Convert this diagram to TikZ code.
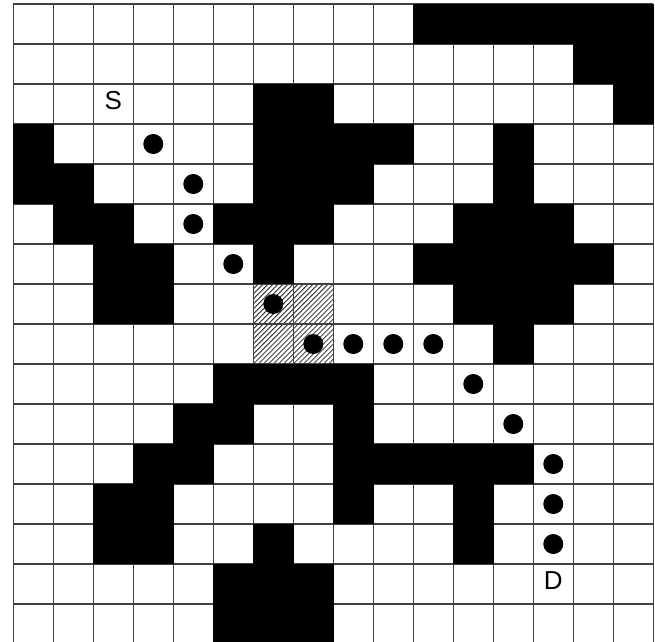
\documentclass[tikz,border=0pt]{standalone}
\usepackage{fontspec}
\setmainfont{Liberation Sans}
\begin{document}
\begin{tikzpicture}[x=1pt,y=-1pt,
  gridline/.style={line width=1.2pt, draw=black!75},
  wall/.style={fill=black},
  hatchline/.style={line width=0.8pt, draw=black!85},
  pathdot/.style={circle, fill=black, inner sep=0pt, minimum size=20pt},
  endlabel/.style={font=\fontsize{26}{26}\selectfont, inner sep=0pt}]
\useasboundingbox (0,0) rectangle (655,641);
\clip (0,0) rectangle (655,641);
\fill[white] (0,0) rectangle (655,641);
% hatched block
\begin{scope}
  \clip (253.3,284) rectangle (333.3,364);
  \foreach \k in {-17,...,17} {
    \draw[hatchline] (253.3+5*\k, 364) -- ++(80,-80);
  }
\end{scope}
% grid
\foreach \i in {0,...,16} {
  \draw[gridline] (13.3+40*\i, 4) -- (13.3+40*\i, 644);
  \draw[gridline] (13.3, 4+40*\i) -- (653.3, 4+40*\i);
}
% walls
\foreach \r/\cols in {0/{10,11,12,13,14,15}, 1/{14,15}, 2/{6,7,15}, 3/{0,6,7,8,9,12},
  4/{0,1,6,7,8,12}, 5/{1,2,5,6,7,11,12,13}, 6/{2,3,6,10,11,12,13,14}, 7/{2,3,11,12,13},
  8/{12}, 9/{5,6,7,8}, 10/{4,5,8}, 11/{3,4,8,9,10,11,12}, 12/{2,3,8,11}, 13/{2,3,6,11},
  14/{5,6,7}, 15/{5,6,7}} {
  \foreach \c in \cols {
    \fill[wall] (13.3+40*\c-0.3, 4+40*\r-0.3) rectangle ++(40.6,40.6);
  }
}
% path dots
\foreach \n/\r/\c in {1/3/3, 2/4/4, 3/5/4, 4/6/5, 5/7/6, 6/8/7, 7/8/8, 8/8/9, 9/8/10,
  10/9/11, 11/10/12, 12/11/13, 13/12/13, 14/13/13} {
  \node[pathdot] (p\n) at (33.3+40*\c, 24+40*\r) {};
}
% labels
\node[endlabel] (S) at (113.3, 100.5) {S};
\node[endlabel] (D) at (553.3, 580.5) {D};
\end{tikzpicture}
\end{document}
